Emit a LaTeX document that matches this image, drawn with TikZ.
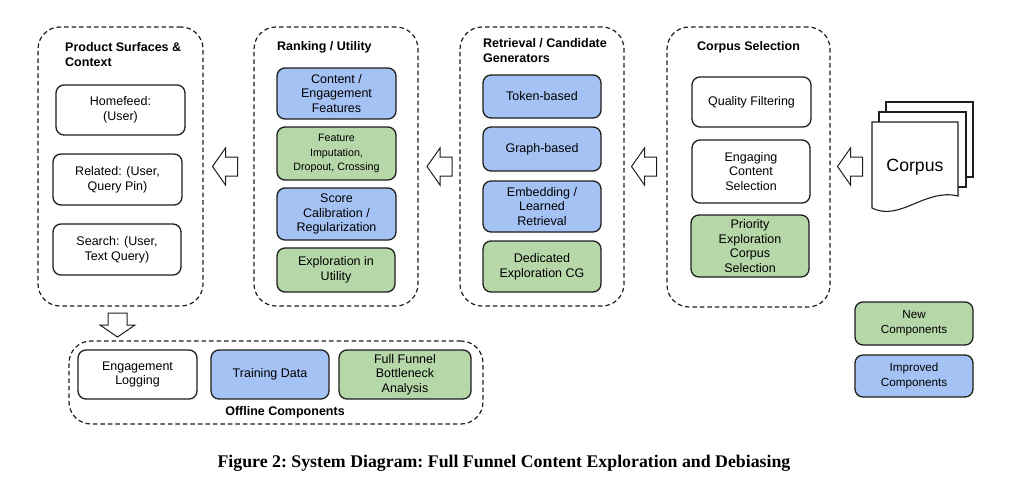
\documentclass[tikz,border=0pt]{standalone}
\usepackage{fontspec}
\setmainfont{Liberation Sans}
\newfontfamily\capfont{Liberation Serif}
\definecolor{improvedblue}{HTML}{A4C2F4}
\definecolor{newgreen}{HTML}{B6D7A8}
\definecolor{inkline}{HTML}{1E1E1E}
\tikzset{
  grp/.style={draw=inkline, line width=1.2pt, dash pattern=on 4.5pt off 3pt, rounded corners=22pt, inner sep=0pt},
  box/.style={draw=inkline, line width=1.3pt, rounded corners=8pt, align=center, inner sep=0pt, font=\fontsize{12.5}{14.7}\selectfont},
  wbox/.style={box, fill=white},
  bbox/.style={box, fill=improvedblue},
  gbox/.style={box, fill=newgreen},
  small/.style={font=\fontsize{10.7}{14.7}\selectfont},
  legend/.style={font=\fontsize{11.7}{14.7}\selectfont},
  ttl/.style={font=\bfseries\fontsize{12.5}{15}\selectfont, inner sep=0pt, align=left},
  blk/.style={draw=inkline, line width=1pt, fill=white, line join=miter},
  leftarrow/.pic={\draw[blk] (-12.5,0) -- (0.5,-18.5) -- (0.5,-9.5) -- (12.5,-9.5) -- (12.5,9.5) -- (0.5,9.5) -- (0.5,18.5) -- cycle;},
  downarrow/.pic={\draw[blk] (0,12) -- (-17.5,0) -- (-9.5,0) -- (-9.5,-12) -- (9.5,-12) -- (9.5,0) -- (17.5,0) -- cycle;},
}
% box from corners: name, style, x1, y1, x2, y2, text
\newcommand{\cbox}[7]{%
  \pgfmathsetmacro{\bw}{#5-#3}\pgfmathsetmacro{\bh}{#6-#4}%
  \pgfmathsetmacro{\bx}{(#3+#5)/2}\pgfmathsetmacro{\by}{(#4+#6)/2}%
  \node[#2, minimum width=\bw pt, minimum height=\bh pt] (#1) at (\bx,\by) {#7};}
\begin{document}
\begin{tikzpicture}[x=1pt,y=-1pt]
\fill[white] (0,0) rectangle (1020,490);
\useasboundingbox (0,0) rectangle (1020,490);

% groups
\cbox{g1}{grp}{38}{27}{203}{306}{}
\cbox{g2}{grp}{254}{27}{418}{306}{}
\cbox{g3}{grp}{460}{27}{624}{306}{}
\cbox{g4}{grp}{667}{27}{830}{307}{}
\cbox{goff}{grp}{69}{341}{483}{424}{}

% titles
\node[ttl, anchor=west] (t1) at (65,54.5) {Product Surfaces \&\\Context};
\node[ttl, anchor=west] (t2) at (277,47) {Ranking / Utility};
\node[ttl, anchor=west] (t3) at (483,50.5) {Retrieval / Candidate\\Generators};
\node[ttl] (t4) at (748.5,47) {Corpus Selection};
\node[ttl] (toff) at (285,412) {Offline Components};

% product surfaces
\cbox{hf}{wbox}{56}{85}{185}{135}{Homefeed:\\(User)}
\cbox{rel}{wbox}{53}{154}{182}{205}{Related: (User,\\Query Pin)}
\cbox{srch}{wbox}{53}{224}{181}{275}{Search: (User,\\Text Query)}

% ranking
\cbox{cef}{bbox}{277}{68}{396}{119}{Content /\\Engagement\\Features}
\cbox{fid}{gbox,small}{277}{127}{396}{180}{Feature\\Imputation,\\Dropout, Crossing}
\cbox{scr}{bbox}{277}{188}{396}{240}{Score\\Calibration /\\Regularization}
\cbox{exu}{gbox}{277}{248}{395}{292}{Exploration in\\Utility}

% retrieval
\cbox{tok}{bbox}{483}{75}{601}{118}{Token-based}
\cbox{grb}{bbox}{483}{127}{601}{171}{Graph-based}
\cbox{emb}{bbox}{483}{181}{601}{232}{Embedding /\\Learned\\Retrieval}
\cbox{ded}{gbox}{483}{241}{601}{292}{Dedicated\\Exploration CG}

% corpus selection
\cbox{qf}{wbox}{692}{77}{811}{127}{Quality Filtering}
\cbox{ecs}{wbox}{692}{140}{810}{203}{Engaging\\Content\\Selection}
\cbox{pec}{gbox}{691}{215}{809}{277}{Priority\\Exploration\\Corpus\\Selection}

% offline
\cbox{el}{wbox}{78}{350}{197}{399}{Engagement\\Logging}
\cbox{td}{bbox}{211}{350}{329}{399}{Training Data}
\cbox{ffb}{gbox}{339}{350}{471}{399}{Full Funnel\\Bottleneck\\Analysis}

% legend
\cbox{lnew}{gbox,legend}{855}{302}{973}{345}{New\\Components}
\cbox{limp}{bbox,legend}{855}{355}{973}{397}{Improved\\Components}

% corpus documents
\draw[inkline, line width=1.1pt, fill=white] (886,102) rectangle (973,177);
\draw[inkline, line width=1.1pt, fill=white] (879,112) rectangle (966,187);
\draw[inkline, line width=1.1pt, fill=white] (872,122) -- (958,122) -- (958,196)
   .. controls (925,188) and (900,222) .. (872,208) -- cycle;
\node[font=\fontsize{17.7}{20}\selectfont, inner sep=0pt] (corpus) at (915,167) {Corpus};

% block arrows
\coordinate (a12) at (225,166.5);
\coordinate (a23) at (439.5,166.5);
\coordinate (a34) at (644,166.5);
\coordinate (a4c) at (850,166.5);
\coordinate (adn) at (117.5,325);
\pic at (a12) {leftarrow};
\pic at (a23) {leftarrow};
\pic at (a34) {leftarrow};
\pic at (a4c) {leftarrow};
\pic at (adn) {downarrow};

% caption
\node[font=\capfont\bfseries\fontsize{17.8}{20}\selectfont, inner sep=0pt] (cap) at (504,463)
  {\frenchspacing Figure 2: System Diagram: Full Funnel Content Exploration and Debiasing};
\end{tikzpicture}
\end{document}
